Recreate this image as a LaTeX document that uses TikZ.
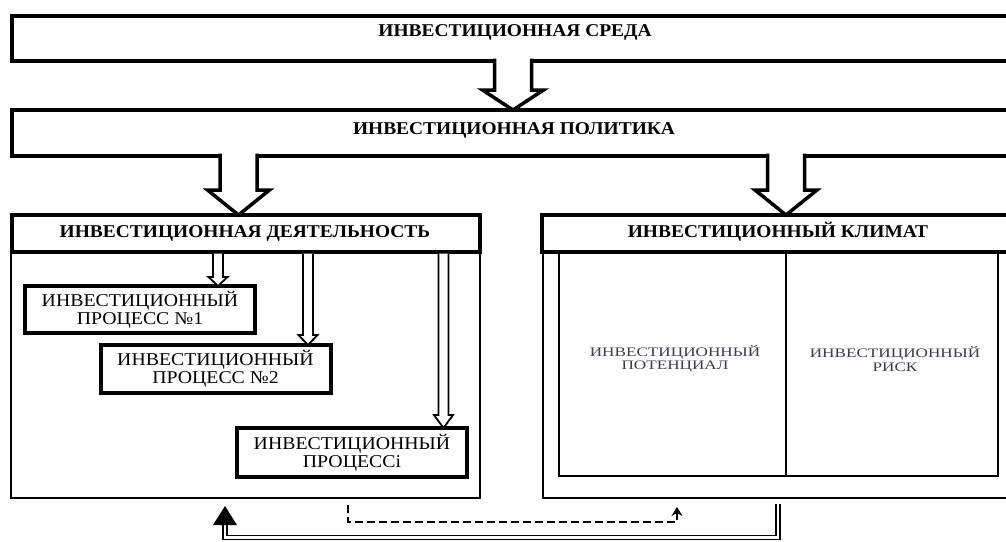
\documentclass[tikz,border=0pt]{standalone}
\usepackage{fontspec}
\setmainfont{Liberation Serif}
\newfontfamily\hfont[FakeStretch=1.08]{Liberation Serif}
\newfontfamily\pfont[FakeStretch=1.1]{Liberation Serif}
\newfontfamily\qfont[FakeStretch=1.32]{Liberation Serif}
\usetikzlibrary{arrows.meta,calc}
\definecolor{cellgray}{RGB}{60,60,85}
\newcommand\blockarrow[6][]{%
  \filldraw[fill=white,line join=miter,#1] let \p1=(#2), \p2=(#3) in
    (\x1-#4pt,\y1) -- (\x1-#4pt,\y2+#6pt) -- (\x1-#5pt,\y2+#6pt) -- (\x1,\y2)
    -- (\x1+#5pt,\y2+#6pt) -- (\x1+#4pt,\y2+#6pt) -- (\x1+#4pt,\y1);
}
\tikzset{
  anybox/.style={draw, rectangle, inner sep=0pt, outer sep=0pt, anchor=north west},
  bigbox/.style={anybox, line width=4pt},
  headbox/.style={anybox, line width=3.5pt},
  thinbox/.style={anybox, line width=1.5pt},
  procbox/.style={draw, rectangle, inner sep=0pt, outer sep=0pt, line width=4pt,
    minimum width=230pt, minimum height=48pt, align=center,
    font=\pfont\fontsize{18}{18}\selectfont},
  htext/.style={inner sep=0pt, text height=12pt, text depth=0pt,
    font=\hfont\bfseries\fontsize{18}{18}\selectfont},
  ctext/.style={inner sep=0pt, align=center, text=cellgray,
    font=\qfont\fontsize{13}{13.5}\selectfont},
  bigarr/.style={line width=3.5pt},
  smallarr/.style={line width=1.8pt},
  dashconn/.style={line width=1.3pt, dash pattern=on 8pt off 4pt,
    -{Stealth[length=9pt,width=11pt]}},
  dblconn/.style={double, double distance=2.8pt, line width=1.2pt, line join=miter}
}
\begin{document}
\begin{tikzpicture}[x=1pt,y=-1pt]
\useasboundingbox (0,0) rectangle (1006,541);
\clip (0,0) rectangle (1006,541);
\fill[white] (0,0) rectangle (1006,541);

% top boxes
\node[bigbox, minimum width=1008pt, minimum height=45pt] (sreda) at (12,15.5) {};
\node[htext] (sredaT) at (515,30.5) {ИНВЕСТИЦИОННАЯ СРЕДА};
\node[bigbox, minimum width=1008pt, minimum height=45.5pt] (politika) at (12,110) {};
\node[htext] (politikaT) at (514,128) {ИНВЕСТИЦИОННАЯ ПОЛИТИКА};

% activity
\node[thinbox, minimum width=469pt, minimum height=246pt] (deyatC) at (11,252) {};
\node[headbox, minimum width=468pt, minimum height=37pt] (deyat) at (12,215) {};
\node[htext] (deyatT) at (245,231) {ИНВЕСТИЦИОННАЯ ДЕЯТЕЛЬНОСТЬ};

% climate
\node[thinbox, minimum width=477pt, minimum height=246pt] (klimatC) at (543,252) {};
\node[headbox, minimum width=478pt, minimum height=37pt] (klimat) at (542,215) {};
\node[htext] (klimatT) at (778,231) {ИНВЕСТИЦИОННЫЙ КЛИМАТ};
\node[thinbox, minimum width=227pt, minimum height=224pt] (pot) at (559,252) {};
\node[thinbox, minimum width=212pt, minimum height=224pt] (risk) at (786,252) {};
\node[ctext] (potT) at (675,359) {ИНВЕСТИЦИОННЫЙ\\ПОТЕНЦИАЛ};
\node[ctext] (riskT) at (895,359) {ИНВЕСТИЦИОННЫЙ\\РИСК};

% processes
\node[procbox, minimum height=47pt] (p1) at (140,309.5) {ИНВЕСТИЦИОННЫЙ\\ПРОЦЕСС №1};
\node[procbox] (p2) at (215.5,369) {ИНВЕСТИЦИОННЫЙ\\ПРОЦЕСС №2};
\node[procbox, minimum height=49pt] (p3) at (352,452.5) {ИНВЕСТИЦИОННЫЙ\\ПРОЦЕССi};

% x positions of connectors
\coordinate (ax1) at (513,0);
\coordinate (ax2) at (238.5,0);
\coordinate (ax3) at (786,0);
\coordinate (sx1) at (218,0);
\coordinate (sx2) at (308,0);
\coordinate (sx3) at (443.5,0);

% big block arrows
\blockarrow[bigarr]{$(ax1 |- sreda.south)+(0,-2)$}{ax1 |- politika.north}{18.5}{30.5}{20}
\blockarrow[bigarr]{$(ax2 |- politika.south)+(0,-2)$}{ax2 |- deyat.north}{18.5}{31}{25}
\blockarrow[bigarr]{$(ax3 |- politika.south)+(0,-2)$}{ax3 |- klimat.north}{18.5}{31}{25}

% small double arrows
\blockarrow[smallarr]{$(sx1 |- deyat.south)+(0,1.5)$}{sx1 |- p1.north}{5}{9.5}{9}
\blockarrow[smallarr]{$(sx2 |- deyat.south)+(0,1.5)$}{sx2 |- p2.north}{5}{9.5}{10}
\blockarrow[smallarr]{$(sx3 |- deyat.south)+(0,1.5)$}{sx3 |- p3.north}{5}{9.5}{13}

% dashed feedback
\coordinate (ax4) at (348,0);
\coordinate (ax5) at (677,0);
\coordinate (dS) at ($(ax4 |- deyatC.south)+(0,7)$);
\coordinate (dE) at ($(ax5 |- klimatC.south)+(0,9)$);
\coordinate (dY) at (0,522);
\draw[dashconn] (dS) -- (dS |- dY) -- (dE |- dY) -- (dE);

% double connector with filled arrow
\coordinate (ax6) at (778,0);
\coordinate (ax7) at (225,0);
\coordinate (bS) at ($(ax6 |- klimatC.south)+(0,6)$);
\coordinate (bE) at ($(ax7 |- deyatC.south)+(0,8)$);
\coordinate (bY) at (0,537.5);
\draw[dblconn] (bS) -- (bS |- bY) -- (bE |- bY) -- ($(bE)+(0,19)$);
\fill (bE) -- ++(-12,19) -- ++(24,0) -- cycle;
\end{tikzpicture}
\end{document}
